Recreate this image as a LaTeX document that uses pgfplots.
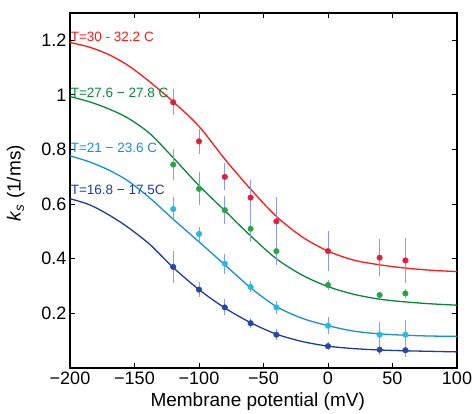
\documentclass[border=0pt]{standalone}
\usepackage{fontspec}
\setmainfont{Liberation Sans}
\usepackage{pgfplots}
\usepackage{pgfplotstable}
\pgfplotsset{compat=1.18}

\definecolor{redl}{RGB}{255,25,25}
\definecolor{redm}{RGB}{225,30,60}
\definecolor{greenl}{RGB}{10,135,60}
\definecolor{greenm}{RGB}{40,165,75}
\definecolor{cyanl}{RGB}{20,145,215}
\definecolor{cyanm}{RGB}{35,185,225}
\definecolor{bluel}{RGB}{30,60,160}
\definecolor{bluem}{RGB}{40,70,170}
\definecolor{errc}{RGB}{140,155,220}

% measured points: x (mV), k_s (1/ms), error
\pgfplotstableread{
x y e
-120 0.973 0.048
-100 0.830 0.045
-80 0.700 0.050
-60 0.624 0.065
-40 0.537 0.090
0 0.428 0.074
40 0.404 0.067
60 0.394 0.082
}\redpts
\pgfplotstableread{
x y e
-120 0.745 0.058
-100 0.656 0.060
-80 0.578 0.052
-60 0.510 0.050
-40 0.428 0.050
0 0.304 0.020
40 0.267 0.010
60 0.273 0.015
}\greenpts
\pgfplotstableread{
x y e
-120 0.582 0.045
-100 0.491 0.025
-80 0.382 0.036
-60 0.297 0.020
-40 0.222 0.024
0 0.155 0.030
40 0.122 0.045
60 0.122 0.055
}\cyanpts
\pgfplotstableread{
x y e
-120 0.370 0.060
-100 0.287 0.027
-80 0.222 0.029
-60 0.164 0.018
-40 0.122 0.020
0 0.080 0.015
40 0.067 0.020
60 0.065 0.025
}\bluepts

\pgfplotsset{
  pts/.style={only marks, mark=*, mark size=2.8bp,
    error bars/y dir=both, error bars/y explicit, error bars/error mark=none,
    error bars/error bar style={errc, line width=0.8bp}},
  fit/.style={smooth, line width=1.3bp, no marks},
}

\begin{document}
\begin{tikzpicture}
\path[use as bounding box] (-70bp,-46bp) rectangle (403bp,368bp);
\begin{axis}[
  scale only axis, width=387bp, height=355bp,
  xmin=-200, xmax=100, ymin=0, ymax=1.3,
  xtick={-200,-150,-100,-50,0,50,100},
  xticklabels={−200,−150,−100,−50,0,50,100},
  ytick={0.2,0.4,0.6,0.8,1,1.2},
  yticklabels={0.2,0.4,0.6,0.8,1,1.2},
  tick align=inside, major tick length=5bp,
  tick style={black, line width=0.9bp},
  axis line style={line width=1.1bp},
  ticklabel style={font=\fontsize{18bp}{20bp}\selectfont},
  xlabel={Membrane potential (mV)},
  xlabel style={font=\fontsize{19bp}{21bp}\selectfont,
    at={(axis description cs:0.485,0)}, anchor=base, yshift=-38bp},
  ylabel={\textit{k}\textsubscript{\textit{s}} (1/ms)},
  ylabel style={font=\fontsize{19bp}{21bp}\selectfont,
    at={(axis description cs:-0.14,0.52)}, anchor=center},
  clip=true,
]
\addplot[fit, redl] coordinates {(-200,1.192) (-185,1.175) (-170,1.148) (-155,1.108) (-140,1.055) (-120,0.975) (-100,0.885) (-80,0.765) (-60,0.655) (-40,0.555) (-20,0.480) (0,0.428) (20,0.395) (40,0.378) (60,0.366) (80,0.358) (100,0.353)};
\addplot[fit, greenl] coordinates {(-200,0.994) (-185,0.975) (-170,0.949) (-155,0.915) (-138,0.858) (-120,0.770) (-100,0.668) (-80,0.576) (-60,0.484) (-40,0.400) (-20,0.340) (0,0.298) (20,0.270) (40,0.252) (60,0.242) (80,0.235) (100,0.230)};
\addplot[fit, cyanl] coordinates {(-200,0.777) (-185,0.755) (-170,0.725) (-155,0.685) (-138,0.622) (-121,0.549) (-100,0.462) (-80,0.378) (-60,0.294) (-40,0.225) (-20,0.182) (0,0.155) (20,0.135) (40,0.125) (60,0.120) (80,0.117) (100,0.116)};
\addplot[fit, bluel] coordinates {(-200,0.620) (-185,0.598) (-170,0.561) (-155,0.515) (-138,0.452) (-120,0.368) (-100,0.287) (-80,0.220) (-60,0.166) (-40,0.124) (-20,0.097) (0,0.080) (20,0.071) (40,0.066) (60,0.063) (80,0.061) (100,0.059)};

\addplot[pts, mark options={fill=redm, draw=redm}] table[x=x, y=y, y error=e] {\redpts};
\addplot[pts, mark options={fill=greenm, draw=greenm}] table[x=x, y=y, y error=e] {\greenpts};
\addplot[pts, mark options={fill=cyanm, draw=cyanm}] table[x=x, y=y, y error=e] {\cyanpts};
\addplot[pts, mark options={fill=bluem, draw=bluem}] table[x=x, y=y, y error=e] {\bluepts};

\node[anchor=west, inner sep=0pt, text=redl, font=\fontsize{13.5bp}{15bp}\selectfont] at (axis cs:-199.5,1.211) {T=30 - 32.2 C};
\node[anchor=west, inner sep=0pt, text=greenl, font=\fontsize{13.5bp}{15bp}\selectfont] at (axis cs:-199.5,1.008) {T=27.6 − 27.8 C};
\node[anchor=west, inner sep=0pt, text=cyanl, font=\fontsize{13.5bp}{15bp}\selectfont] at (axis cs:-199.5,0.805) {T=21 − 23.6 C};
\node[anchor=west, inner sep=0pt, text=bluel, font=\fontsize{13.5bp}{15bp}\selectfont] at (axis cs:-199.5,0.651) {T=16.8 − 17.5C};
\end{axis}
\end{tikzpicture}
\end{document}
